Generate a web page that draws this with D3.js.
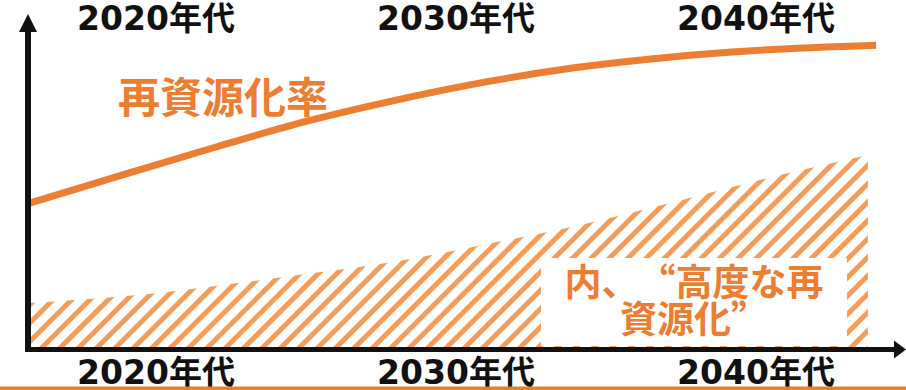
<!DOCTYPE html>
<html>
<head>
<meta charset="utf-8">
<script src="https://cdn.jsdelivr.net/npm/d3@7"></script>
<style>
  html, body { margin: 0; padding: 0; background: #fff; }
  svg { display: block; }
  .box-label { font-feature-settings: "fwid" 1; }
</style>
</head>
<body>
<div id="chart"></div>
<script>
// Decade labels (top and bottom)
const decades = ['2020年代', '2030年代', '2040年代'];

// 再資源化率 curve
const rateYears = [2020.8, 2024, 2027, 2030, 2033, 2036, 2039, 2042, 2045, 2049];
const rateValues = [42, 50.3, 58, 65.3, 71.4, 76.6, 80.7, 83.6, 85.6, 87.1];

// 高度な再資源化 hatched area
const advancedYears = [2020.8, 2024, 2027, 2030, 2033, 2036, 2039, 2042, 2045, 2048.73];
const advancedValues = [13.4, 15.4, 18.3, 21.7, 25.3, 30.2, 35.4, 41.7, 48.3, 55.7];

const rateLabel = '再資源化率';
const advancedLabel = ['内、“高度な再', '資源化”'];

const width = 906, height = 390;
const orange = '#ED7D31';
const hatch = '#F59D58';
const axisColor = '#111';
const numFont = '"DejaVu Sans", "Noto Sans CJK JP", sans-serif';
const jpFont = '"Noto Sans CJK JP", sans-serif';

const svg = d3.select('#chart').append('svg')
    .attr('width', width)
    .attr('height', height)
    .attr('viewBox', `0 0 ${width} ${height}`);

// Scales
const x = d3.scaleLinear().domain([2020, 2050]).range([6, 906]);
const y = d3.scaleLinear().domain([0, 100]).range([350, 0]);
const band = d3.scaleBand().domain(decades).range([6, 906]);

// Diagonal hatch pattern
const pattern = svg.append('defs').append('pattern')
    .attr('id', 'hatch')
    .attr('patternUnits', 'userSpaceOnUse')
    .attr('width', 13)
    .attr('height', 13)
    .attr('patternTransform', 'rotate(45)');
pattern.append('rect')
    .attr('x', 0).attr('y', 0)
    .attr('width', 5).attr('height', 13)
    .attr('fill', hatch);

// Hatched area
const areaData = advancedYears.map((yr, i) => ({ yr, v: advancedValues[i] }));
svg.append('path')
    .datum(areaData)
    .attr('fill', 'url(#hatch)')
    .attr('d', d3.area()
        .x(d => x(d.yr))
        .y0(y(0))
        .y1(d => y(d.v))
        .curve(d3.curveMonotoneX));

// White label box over the hatching
svg.append('rect')
    .attr('x', 541).attr('y', 258)
    .attr('width', 306).attr('height', 88)
    .attr('fill', '#fff');

// full-width glyphs so the quotes take a whole em, like the reference
svg.append('g').selectAll('text')
    .data(advancedLabel)
    .join('text')
    .attr('class', 'box-label')
    .attr('x', 694)
    .attr('y', (d, i) => 280 + i * 37)
    .attr('text-anchor', 'middle')
    .attr('dominant-baseline', 'central')
    .attr('font-family', jpFont)
    .attr('font-weight', 'bold')
    .attr('font-size', 37)
    .attr('fill', orange)
    .text(d => d);

// Rate curve
const rateData = rateYears.map((yr, i) => ({ yr, v: rateValues[i] }));
svg.append('path')
    .datum(rateData)
    .attr('fill', 'none')
    .attr('stroke', orange)
    .attr('stroke-width', 7)
    .attr('d', d3.line()
        .x(d => x(d.yr))
        .y(d => y(d.v))
        .curve(d3.curveMonotoneX));

svg.append('text')
    .attr('x', 118)
    .attr('y', 94)
    .attr('dominant-baseline', 'central')
    .attr('font-family', jpFont)
    .attr('font-weight', 'bold')
    .attr('font-size', 42)
    .attr('fill', orange)
    .text(rateLabel);

// Axes with arrow heads
const axes = svg.append('g').attr('fill', axisColor).attr('stroke', axisColor);
axes.append('line')
    .attr('x1', 28).attr('y1', 352)
    .attr('x2', 28).attr('y2', 28)
    .attr('stroke-width', 6);
axes.append('path')
    .attr('stroke', 'none')
    .attr('d', 'M19,32 L37,32 L28,14 Z');
axes.append('line')
    .attr('x1', 25).attr('y1', 349.5)
    .attr('x2', 896).attr('y2', 349.5)
    .attr('stroke-width', 5);
axes.append('path')
    .attr('stroke', 'none')
    .attr('d', 'M894,340.5 L894,358.5 L906,349.5 Z');

// Decade labels, top row and bottom row (bottom row is clipped by the rule, as in the reference)
[30, 384].forEach(baseY => {
    svg.append('g').selectAll('text')
        .data(decades)
        .join('text')
        .attr('x', d => band(d) + band.bandwidth() / 2)
        .attr('y', baseY)
        .attr('text-anchor', 'middle')
        .attr('font-family', numFont)
        .attr('font-weight', 'bold')
        .attr('font-size', 33)
        .attr('fill', axisColor)
        .text(d => d);
});

// Orange rule along the bottom edge
svg.append('rect')
    .attr('x', 0).attr('y', 386.5)
    .attr('width', width).attr('height', 4)
    .attr('fill', '#EF7F1A');
</script>
</body>
</html>
